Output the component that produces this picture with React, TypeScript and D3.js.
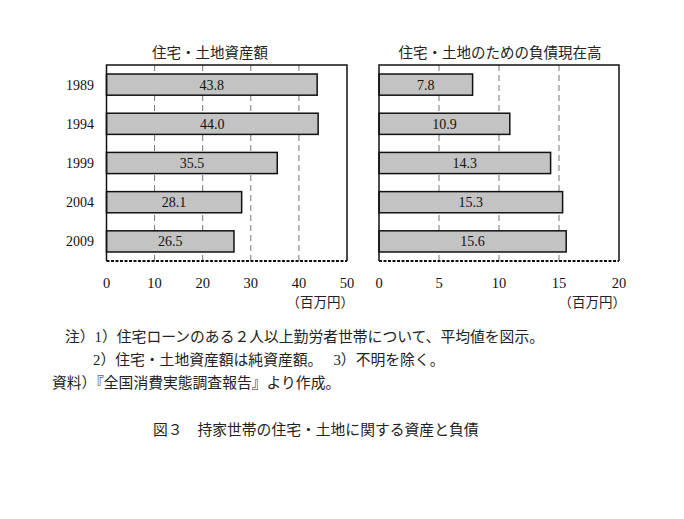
import * as d3 from 'd3'
import React from 'react'

const years = ['1989', '1994', '1999', '2004', '2009']
const assets = [43.8, 44.0, 35.5, 28.1, 26.5]
const debts = [7.8, 10.9, 14.3, 15.3, 15.6]
const assetTicks = [0, 10, 20, 30, 40, 50]
const debtTicks = [0, 5, 10, 15, 20]

const assetTitle = '住宅・土地資産額'
const debtTitle = '住宅・土地のための負債現在高'
const unitLabel = '（百万円）'
const notes = [
  '注）1）住宅ローンのある２人以上勤労者世帯について、平均値を図示。',
  '2）住宅・土地資産額は純資産額。　 3）不明を除く。',
  '資料）『全国消費実態調査報告』より作成。',
]
const caption = '図３　持家世帯の住宅・土地に関する資産と負債'

const FONT = "'Liberation Serif', 'Noto Sans CJK JP', serif"
const top = 65
const bottom = 261

function Panel(props: {
  values: number[]
  ticks: number[]
  x0: number
  x1: number
  title: string
  titleX: number
  showYears: boolean
}) {
  const { values, ticks, x0, x1, title, titleX, showYears } = props
  const max = ticks[ticks.length - 1]
  const x = d3.scaleLinear().domain([0, max]).range([x0, x1])
  const y = d3.scaleBand<string>().domain(years).range([top, bottom]).paddingInner(0.46).paddingOuter(0.23)
  const bw = y.bandwidth()

  return (
    <g>
      <text x={titleX} y={58} textAnchor="middle" fontSize={14.5} fill="#222">
        {title}
      </text>
      {ticks.slice(1, -1).map(t => (
        <line
          key={t}
          x1={x(t)}
          x2={x(t)}
          y1={top}
          y2={bottom}
          stroke="#777"
          strokeWidth={1}
          strokeDasharray="6,4"
        />
      ))}
      {values.map((v, i) => (
        <g key={years[i]}>
          <rect
            x={x(0)}
            y={y(years[i])!}
            width={x(v) - x(0)}
            height={bw}
            fill="#c3c3c3"
            stroke="#111"
            strokeWidth={1.5}
          />
          <text
            x={(x(0) + x(v)) / 2}
            y={y(years[i])! + bw / 2 + 5}
            textAnchor="middle"
            fontSize={14}
            fill="#111"
          >
            {v.toFixed(1)}
          </text>
        </g>
      ))}
      {showYears &&
        years.map(yr => (
          <text key={yr} x={94} y={y(yr)! + bw / 2 + 5} textAnchor="end" fontSize={14} fill="#111">
            {yr}
          </text>
        ))}
      <path d={`M${x0},${bottom}V${top}H${x1}V${bottom}`} fill="none" stroke="#111" strokeWidth={1.5} />
      <line x1={x0} x2={x1} y1={bottom} y2={bottom} stroke="#111" strokeWidth={1.8} strokeDasharray="3,1.5" />
      {ticks.map(t => (
        <text key={t} x={x(t)} y={288} textAnchor="middle" fontSize={14.5} fill="#111">
          {t}
        </text>
      ))}
      <text x={x1 + 7} y={307} textAnchor="end" fontSize={13.5} fill="#222">
        {unitLabel}
      </text>
    </g>
  )
}

export default function App() {
  return (
    <svg
      width={684}
      height={519}
      style={{ position: 'absolute', left: 0, top: 0, background: '#fff' }}
      fontFamily={FONT}
    >
      <Panel values={assets} ticks={assetTicks} x0={106.5} x1={347} title={assetTitle} titleX={210} showYears />
      <Panel values={debts} ticks={debtTicks} x0={379} x1={619} title={debtTitle} titleX={500} showYears={false} />
      <text x={65} y={342} fontSize={14.8} fill="#222">
        {notes[0]}
      </text>
      <text x={93} y={365} fontSize={14.8} fill="#222">
        {notes[1]}
      </text>
      <text x={52} y={388} fontSize={14.8} fill="#222">
        {notes[2]}
      </text>
      <text x={153} y={435} fontSize={14.8} fill="#222">
        {caption}
      </text>
    </svg>
  )
}
